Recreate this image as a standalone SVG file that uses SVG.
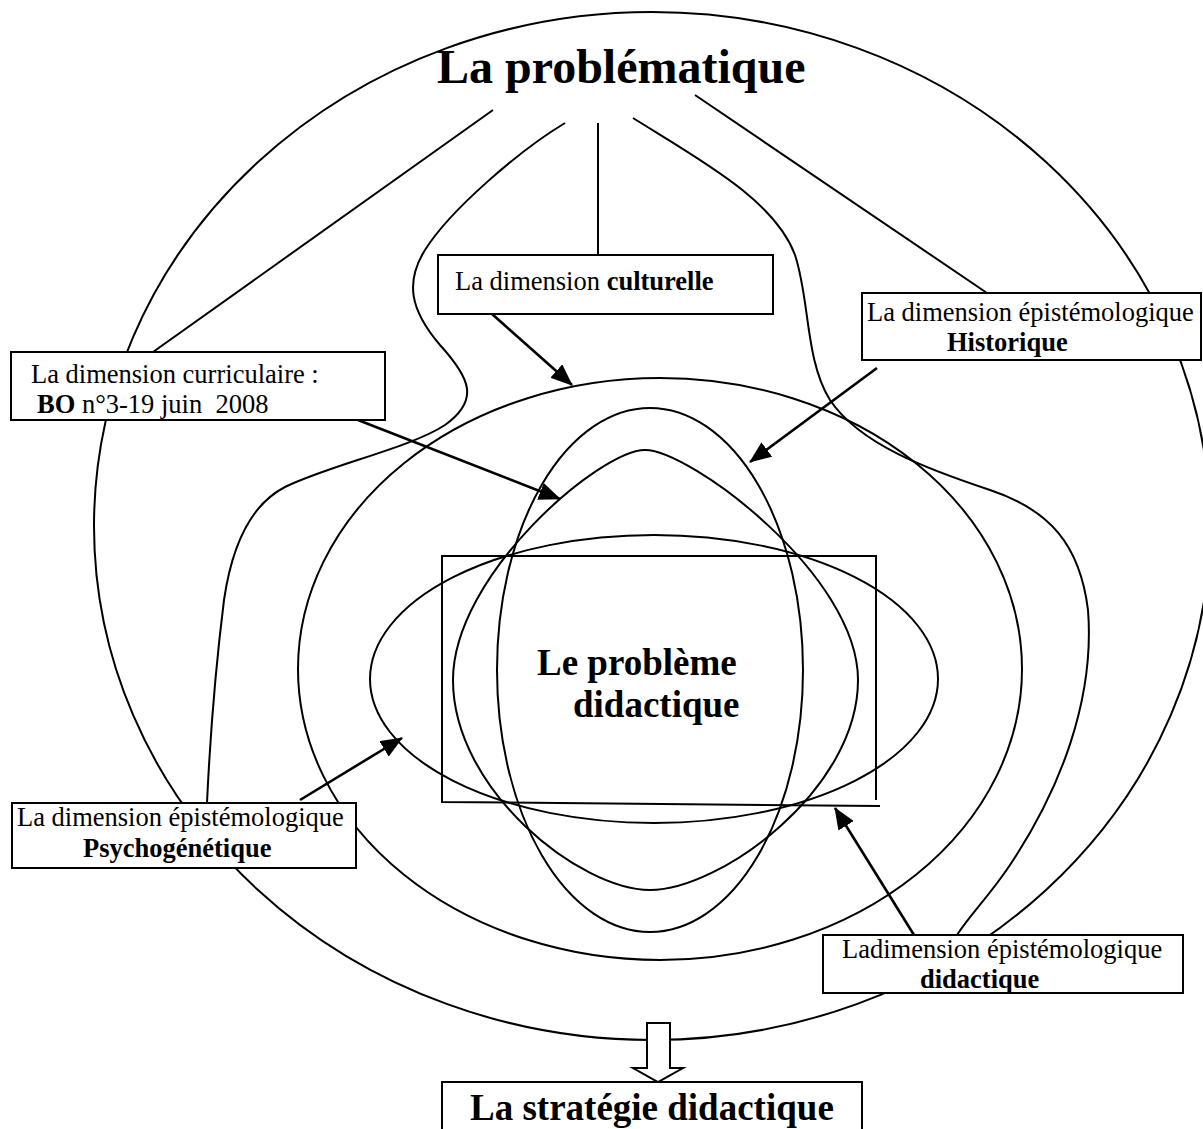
<svg xmlns="http://www.w3.org/2000/svg" width="1203" height="1129" viewBox="0 0 1203 1129">
  <style>
    .ln { fill: none; stroke: #000; stroke-width: 2; }
    .box { fill: #fff; stroke: #000; stroke-width: 2; }
    .arr { fill: none; stroke: #000; stroke-width: 2.6; marker-end: url(#head); }
    .t { font-family: "Liberation Serif", "Times New Roman", serif; fill: #000; }
    .lbl { font-size: 26.5px; }
    .b { font-weight: bold; }
  </style>
  <defs>
    <marker id="head" viewBox="0 0 22 18" refX="21" refY="9" markerWidth="22" markerHeight="18" markerUnits="userSpaceOnUse" orient="auto">
      <path d="M0,0 L22,9 L0,18 z" fill="#000"/>
    </marker>
  </defs>

  <!-- nested shapes around the central problem -->
  <g id="shapes">
    <ellipse class="ln" cx="652" cy="526" rx="558" ry="514"/>
    <ellipse class="ln" cx="660" cy="669" rx="362" ry="291"/>
    <ellipse class="ln" cx="650" cy="670" rx="153" ry="262"/>
    <ellipse class="ln" cx="654" cy="679" rx="284" ry="144"/>
    <path class="ln" d="M645,450 C690,450 858,575 858,680 C858,790 720,890 650,890 C580,890 453,790 453,680 C453,575 600,450 645,450 Z"/>
  </g>

  <!-- lines leaving the title, arrows to the shapes -->
  <g id="connectors">
    <line class="ln" x1="493" y1="110" x2="153" y2="352"/>
    <line class="ln" x1="598" y1="123" x2="598" y2="255"/>
    <line class="ln" x1="695" y1="95" x2="987" y2="293"/>
    <path class="ln" d="M565,123 C520,150 450,210 425,250 C405,282 410,310 440,345 C470,378 480,400 445,425 C410,448 330,465 285,487 C250,505 232,545 224,600 C214,680 209,760 207,803"/>
    <path class="ln" d="M633,118 C700,160 775,200 795,255 C810,300 805,360 830,400 C860,445 930,470 990,490 C1050,510 1080,545 1088,610 C1095,700 1060,790 1010,865 C990,895 970,915 957,935"/>
    <line class="arr" x1="492" y1="314" x2="572" y2="385"/>
    <line class="arr" x1="877" y1="368" x2="750" y2="462"/>
    <line class="arr" x1="358" y1="420" x2="560" y2="499"/>
    <line class="arr" x1="300" y1="800" x2="402" y2="738"/>
    <line class="arr" x1="914" y1="935" x2="835" y2="808"/>
    <polygon class="box" points="647,1023 670,1023 670,1068 683,1068 658,1082 633,1068 647,1068"/>
  </g>

  <g id="title">
    <text class="t b" x="437" y="83" font-size="48">La problématique</text>
  </g>

  <g id="probleme">
    <path class="ln" d="M876,800 V556 H442 V802 L880,806"/>
    <text class="t b" x="537" y="675" font-size="37">Le problème</text>
    <text class="t b" x="573" y="717" font-size="37">didactique</text>
  </g>

  <g id="culturelle">
    <rect class="box" x="438" y="255" width="335" height="59"/>
    <text class="t lbl" x="455" y="290">La dimension <tspan class="b">culturelle</tspan></text>
  </g>

  <g id="curriculaire">
    <rect class="box" x="11" y="352" width="374" height="68"/>
    <text class="t lbl" x="31" y="383">La dimension curriculaire :</text>
    <text class="t lbl" x="37" y="413"><tspan class="b">BO</tspan> n°3-19 juin&#160; 2008</text>
  </g>

  <g id="historique">
    <rect class="box" x="862" y="293" width="339" height="67"/>
    <text class="t lbl" x="867" y="321">La dimension épistémologique</text>
    <text class="t lbl b" x="947" y="351">Historique</text>
  </g>

  <g id="psychogenetique">
    <rect class="box" x="12" y="803" width="344" height="65"/>
    <text class="t lbl" x="17" y="826">La dimension épistémologique</text>
    <text class="t lbl b" x="83" y="857">Psychogénétique</text>
  </g>

  <g id="didactique">
    <rect class="box" x="823" y="935" width="360" height="58"/>
    <text class="t lbl" x="842" y="958">Ladimension épistémologique</text>
    <text class="t lbl b" x="920" y="988">didactique</text>
  </g>

  <g id="strategie">
    <rect class="box" x="442" y="1082" width="420" height="60"/>
    <text class="t b" x="470" y="1120" font-size="37">La stratégie didactique</text>
  </g>
</svg>
